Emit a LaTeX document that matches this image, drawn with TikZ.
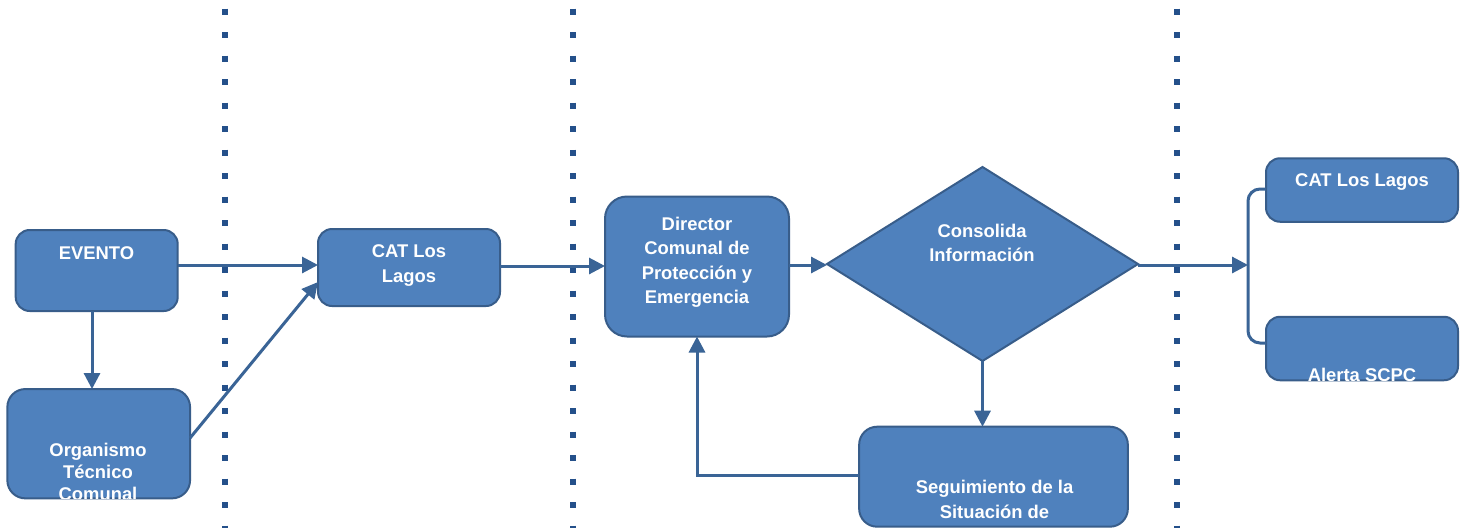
\documentclass[tikz,border=0pt]{standalone}
\usepackage{fontspec}
\setmainfont{Liberation Sans}
\usetikzlibrary{shapes.geometric,arrows.meta}
\definecolor{boxfill}{HTML}{4F81BD}
\definecolor{boxline}{HTML}{385D8A}
\definecolor{arrowc}{HTML}{3A6496}
\definecolor{dotc}{HTML}{24508A}
\begin{document}
\begin{tikzpicture}[x=1pt,y=-1pt,
  box/.style={draw=boxline, line width=2pt, fill=boxfill, rounded corners=#1, inner sep=0pt, outer sep=0pt},
  box/.default=14pt,
  txt/.style={text=white, font=\bfseries\fontsize{18.4}{#1}\selectfont, align=center, anchor=north, inner sep=0pt},
  txt/.default=24.5,
  link/.style={draw=arrowc, line width=3pt},
  arr/.style={link, -{Triangle[length=16pt,width=16pt]}},
  lane/.style={draw=dotc, line width=6pt, dash pattern=on 6pt off 17.5pt}]
\useasboundingbox[fill=white] (0,0) rectangle (1464,528);

% lanes
\coordinate (l1t) at (225,8.5); \coordinate (l1b) at (225,528);
\coordinate (l2t) at (573,8.5); \coordinate (l2b) at (573,528);
\coordinate (l3t) at (1177,8.5); \coordinate (l3b) at (1177,528);
\draw[lane] (l1t) -- (l1b);
\draw[lane] (l2t) -- (l2b);
\draw[lane] (l3t) -- (l3b);

% boxes
\node[box, minimum width=162pt, minimum height=81pt] (ev) at (96.7,270.5) {};
\node[box=18pt, minimum width=182.7pt, minimum height=109.3pt] (org) at (98.7,443.7) {};
\node[box, minimum width=182pt, minimum height=77pt] (cat) at (409,267.5) {};
\node[box=22pt, minimum width=184pt, minimum height=140pt] (dir) at (697,266.5) {};
\node[draw=boxline, line width=2pt, fill=boxfill, diamond, minimum width=311pt, minimum height=194pt, inner sep=0pt, outer sep=0pt] (dia) at (982.5,264) {};
\node[box, minimum width=192pt, minimum height=63.5pt] (cat2) at (1362,190) {};
\node[box, minimum width=192pt, minimum height=63.5pt] (al) at (1362,348.5) {};
\node[box=18pt, minimum width=268.7pt, minimum height=100pt] (seg) at (993.5,476.7) {};

% texts
\node[txt] (tev) at (96.5,246.7) {EVENTO};
\begin{scope}
  \clip (org.south west) rectangle (org.north east);
  \node[txt=22] (torg) at (98,442.7) {Organismo\\Técnico\\Comunal};
\end{scope}
\node[txt=25] (tcat) at (409,244.2) {CAT Los\\Lagos};
\node[txt=24.4] (tdir) at (697,217) {Director\\Comunal de\\Protección y\\Emergencia};
\node[txt=24] (tdia) at (982,224.2) {Consolida\\Información};
\node[txt] (tcat2) at (1362,173.7) {CAT Los Lagos};
\begin{scope}
  \clip (al.south west) rectangle (al.north east);
  \node[txt] (tal) at (1362,367.7) {Alerta SCPC};
\end{scope}
\begin{scope}
  \clip (seg.south west) rectangle (seg.north east);
  \node[txt=25] (tseg) at (994.5,480.4) {Seguimiento de la\\Situación de};
\end{scope}

% helper coordinates
\coordinate (h1) at (0,265);
\coordinate (h2) at (0,266);
\coordinate (h3) at (0,475);
\coordinate (v1) at (92,0);
\coordinate (br) at (1248,265);
\coordinate (b1) at (0,189);
\coordinate (b2) at (0,343);

% connectors
\draw[arr] (ev.east |- h1) -- (cat.west |- h1);
\draw[arr] (ev.south -| v1) -- (org.north -| v1);
\draw[arr] ([yshift=5.7pt]org.east) -- ([yshift=-14.5pt]cat.west);
\draw[arr] (cat.east |- h2) -- (dir.west |- h2);
\draw[arr] (dir.east |- h1) -- (dia.west |- h1);
\draw[arr] (dia.east |- h1) -- (br);
\draw[link, rounded corners=12pt] (cat2.west |- b1) -- (br |- b1) -- (br |- b2) -- (al.west |- b2);
\draw[arr] (dia.south) -- (dia.south |- seg.north);
\draw[arr] (seg.west |- h3) -| (dir.south);
\end{tikzpicture}
\end{document}
